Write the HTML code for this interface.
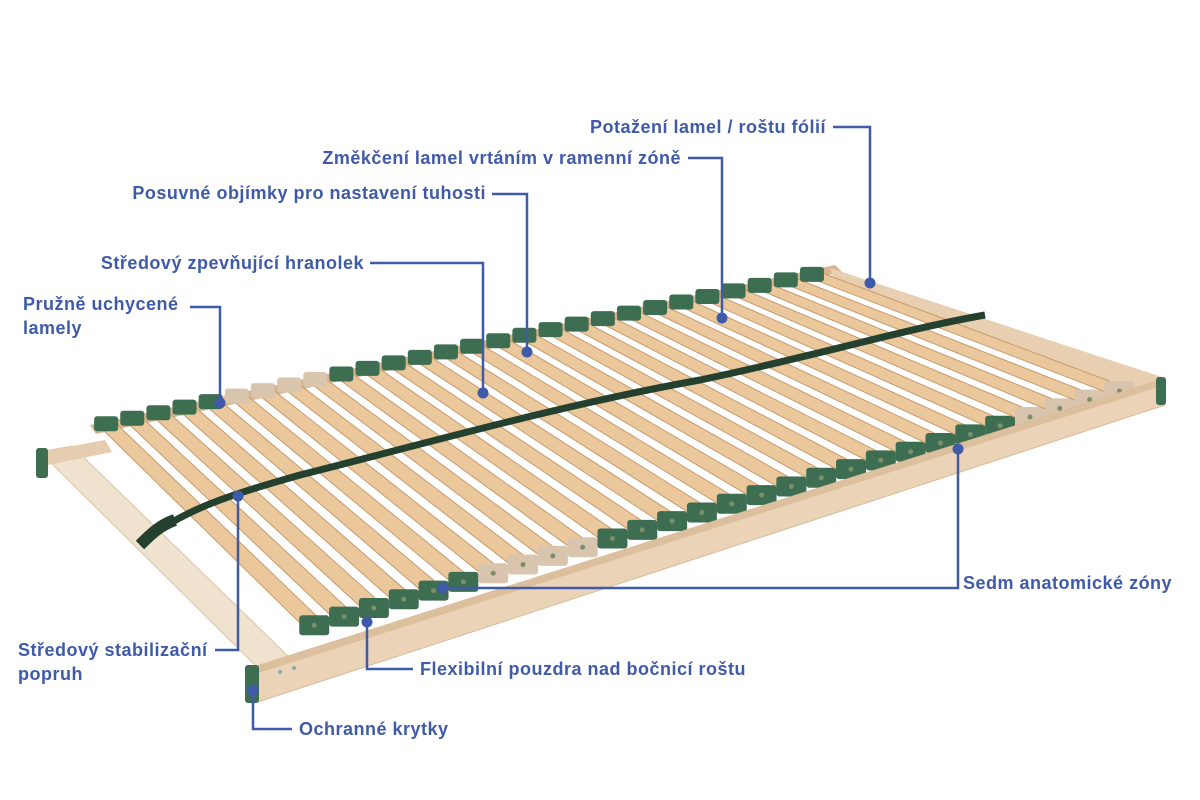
<!DOCTYPE html>
<html><head><meta charset="utf-8"><style>
html,body{margin:0;padding:0;background:#fff;}
#c{position:relative;width:1200px;height:800px;overflow:hidden;}
svg{position:absolute;left:0;top:0;}
.t{font-family:"Liberation Sans",sans-serif;font-weight:bold;font-size:18px;letter-spacing:0.5px;fill:#3f5aa8;}
</style></head><body><div id="c">
<svg id="s" width="1200" height="800" viewBox="0 0 1200 800">
<!-- left end rail -->
<polygon points="40,452 72,446 290,658 258,668" fill="#efe3cf" stroke="#d8c4a6" stroke-width="1"/>
<polygon points="40,452 105,440 112,452 48,465" fill="#e6cdb0"/>
<!-- back rail -->
<polygon points="90,425 835,265 842,272 96,434" fill="#d9b48c"/>
<!-- right end rail -->
<polygon points="830,268 1165,378 1165,405 835,282" fill="#e8cfb2"/>
<g id="slats"></g>
<!-- front rail -->
<polygon points="250,668 1160,380 1165,405 258,702" fill="#ebd3b8" stroke="#d9bb98" stroke-width="1"/>
<polygon points="250,668 1160,380 1162,386 252,675" fill="#dcbf9c"/>
<rect x="245" y="665" width="14" height="38" rx="3" fill="#3e6e52"/>
<rect x="36" y="448" width="12" height="30" rx="3" fill="#3e6e52"/>
<rect x="1156" y="377" width="10" height="28" rx="3" fill="#3e6e52"/>
<circle cx="280" cy="672" r="2" fill="#8aa"/><circle cx="294" cy="668" r="2" fill="#8aa"/>
<!-- strap -->
<path d="M140,545 C180,510 230,495 300,475 C420,445 560,405 700,380 C820,355 900,330 985,315" fill="none" stroke="#24402f" stroke-width="7"/>
<path d="M140,545 C150,535 160,525 175,520" fill="none" stroke="#24402f" stroke-width="12"/>

<g stroke="#3f5aa8" stroke-width="2.5" fill="none">
<polyline points="833,127 870,127 870,283"/>
<polyline points="688,158 722,158 722,318"/>
<polyline points="492,194 527,194 527,352"/>
<polyline points="370,263 483,263 483,393"/>
<polyline points="190,307 220,307 220,403"/>
<polyline points="443,588 958,588 958,449"/>
<polyline points="215,650 238,650 238,496"/>
<polyline points="413,669 367,669 367,622"/>
<polyline points="292,729 253,729 253,690"/>
</g>
<g fill="#3f5aa8">
<circle cx="870" cy="283" r="5.5"/><circle cx="722" cy="318" r="5.5"/><circle cx="527" cy="352" r="5.5"/>
<circle cx="483" cy="393" r="5.5"/><circle cx="220" cy="403" r="5.5"/><circle cx="443" cy="588" r="5.5"/>
<circle cx="958" cy="449" r="5.5"/><circle cx="238" cy="496" r="5.5"/><circle cx="367" cy="622" r="5.5"/>
<circle cx="253" cy="690" r="5.5"/>
</g>
<text class="t" x="826" y="133" text-anchor="end">Potažení lamel / roštu fólií</text>
<text class="t" x="681" y="164" text-anchor="end">Změkčení lamel vrtáním v ramenní zóně</text>
<text class="t" x="486" y="199" text-anchor="end">Posuvné objímky pro nastavení tuhosti</text>
<text class="t" x="364" y="269" text-anchor="end">Středový zpevňující hranolek</text>
<text class="t" x="23" y="310">Pružně uchycené</text>
<text class="t" x="23" y="334">lamely</text>
<text class="t" x="963" y="589">Sedm anatomické zóny</text>
<text class="t" x="18" y="656">Středový stabilizační</text>
<text class="t" x="18" y="680">popruh</text>
<text class="t" x="420" y="675">Flexibilní pouzdra nad bočnicí roštu</text>
<text class="t" x="299" y="735">Ochranné krytky</text>
</svg>
<script>
(function(){
var g=document.getElementById('slats'),h='';
var B0=[98,425],B1=[830,270],F0=[305,628],F1=[1140,385],N=28,w=0.62;
function P(a,b,t){return [a[0]+(b[0]-a[0])*t,a[1]+(b[1]-a[1])*t];}
for(var i=0;i<N;i++){
 var t0=i/N,t1=(i+w)/N;
 var a=P(B0,B1,t0),b=P(B0,B1,t1),c=P(F0,F1,t1),d=P(F0,F1,t0);
 h+='<polygon points="'+a+' '+b+' '+c+' '+d+'" fill="#ebc79c" stroke="#c89a6c" stroke-width="1"/>';
 var fc=(i>=6&&i<=9)||(i>=24)?'#d9c4ae':'#3e6e52';
 var bc=(i>=22&&i<=25)?'#3e6e52':((i>=5&&i<=8)?'#d9c4ae':'#3e6e52');
 var m=P(B0,B1,(i+w/2)/N),n=P(F0,F1,(i+w/2)/N);
 h+='<rect x="'+(m[0]-12)+'" y="'+(m[1]-7)+'" width="24" height="15" rx="3" fill="'+bc+'"/>';
 h+='<rect x="'+(n[0]-15)+'" y="'+(n[1]-10)+'" width="30" height="20" rx="3" fill="'+fc+'"/>';
 h+='<circle cx="'+n[0]+'" cy="'+n[1]+'" r="2.5" fill="#7a8f6a"/>';
}
g.innerHTML=h;
})();
</script>
</div></body></html>
